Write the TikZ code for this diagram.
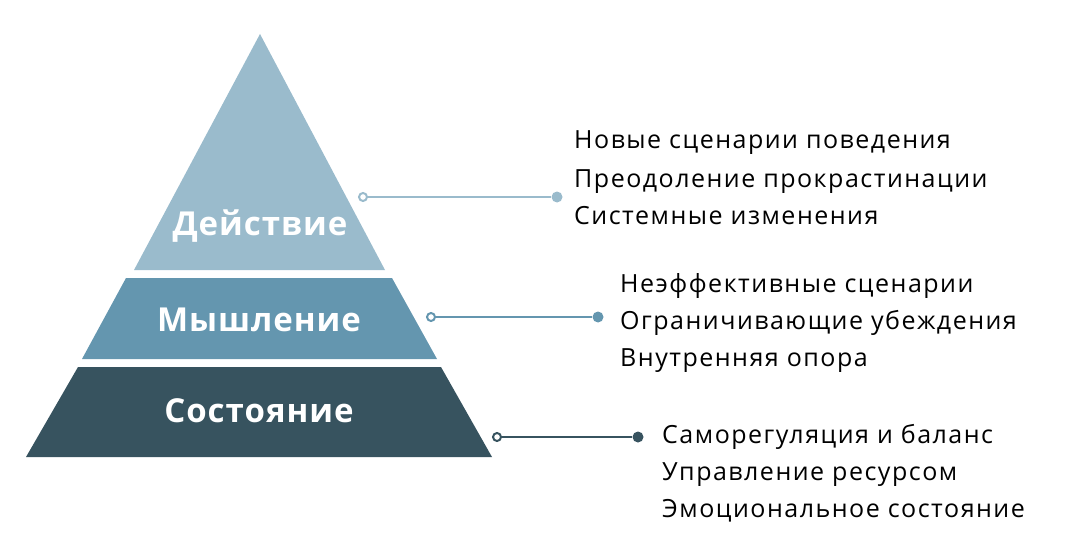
\documentclass[tikz,border=0pt]{standalone}
\usepackage{fontspec}
\setmainfont{Open Sans}
\newfontfamily\itemfont[LetterSpace=6]{Open Sans}
\newfontfamily\tierfont[LetterSpace=3]{Open Sans}
\usepackage{xcolor}
\definecolor{tierlight}{HTML}{9ABBCC}
\definecolor{tiermid}{HTML}{6496AF}
\definecolor{tierdark}{HTML}{37535F}
\usepackage{tikz}
\usetikzlibrary{positioning}

\tikzset{
  tierlabel/.style={font=\tierfont\fontsize{33}{33}\selectfont\bfseries, text=white, inner sep=0pt},
  itemline/.style={font=\itemfont\fontsize{25}{25}\selectfont, text=black, anchor=base west, inner sep=0pt},
  opendot/.style={circle, draw=#1, line width=2pt, fill=white, minimum size=8pt, inner sep=0pt},
  fulldot/.style={circle, fill=#1, minimum size=11pt, inner sep=0pt},
  leader/.style={draw=#1, line width=2.6pt}
}

\begin{document}
\begin{tikzpicture}[x=1pt, y=-1pt]
  \useasboundingbox (0,0) rectangle (1081,559);

  % the three tiers of the pyramid
  \fill[tierlight] (260,34) -- (385,270) -- (134,270) -- cycle;
  \fill[tiermid] (126,278) -- (392,278) -- (437,359) -- (82,359) -- cycle;
  \fill[tierdark] (78,367) -- (441,367) -- (492,457) -- (26,457) -- cycle;

  \node[tierlabel] (dej) at (260,226) {Действие};
  \node[tierlabel] (mysh) at (259,320) {Мышление};
  \node[tierlabel] (sost) at (259,411) {Состояние};

  % leaders from the tiers to the lists
  \node[opendot=tierlight] (o1) at (363,197) {};
  \node[fulldot=tierlight] (d1) at (557,197) {};
  \node[opendot=tiermid] (o2) at (431,317) {};
  \node[fulldot=tiermid] (d2) at (598,317) {};
  \node[opendot=tierdark] (o3) at (497,437) {};
  \node[fulldot=tierdark] (d3) at (638,437) {};

  \draw[leader=tierlight] (o1) -- (d1);
  \draw[leader=tiermid] (o2) -- (d2);
  \draw[leader=tierdark] (o3) -- (d3);

  % top list
  \node[itemline] (a1) at (574,149) {Новые сценарии поведения};
  \node[itemline] (a2) at (574,187) {Преодоление прокрастинации};
  \node[itemline] (a3) at (574,224) {Системные изменения};

  % middle list
  \node[itemline] (b1) at (620,292) {Неэффективные сценарии};
  \node[itemline] (b2) at (620,329) {Ограничивающие убеждения};
  \node[itemline] (b3) at (620,366) {Внутренняя опора};

  % bottom list
  \node[itemline] (c1) at (662,443) {Саморегуляция и баланс};
  \node[itemline] (c2) at (662,480) {Управление ресурсом};
  \node[itemline] (c3) at (662,517) {Эмоциональное состояние};

\end{tikzpicture}
\end{document}
